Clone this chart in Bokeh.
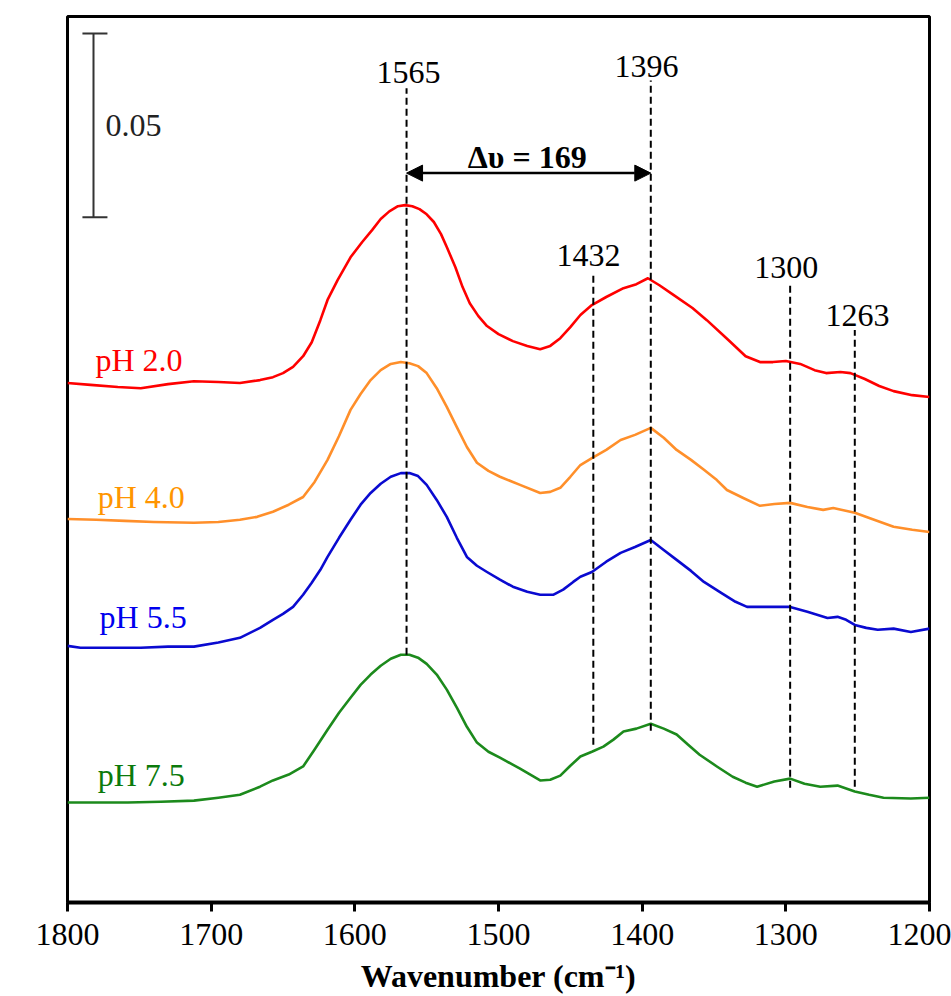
from bokeh.plotting import figure
from bokeh.models import Range1d, Label, Arrow, NormalHead, FixedTicker
from bokeh.embed import file_html
from bokeh.resources import INLINE

FONT = "Liberation Serif"

# ---- data (absorbance, stacked with arbitrary offsets as in the figure) ----
wn_red = [1800, 1784, 1765, 1749, 1730, 1712, 1695, 1680, 1666, 1657, 1650, 1643, 1636, 1630,
          1624, 1619, 1612, 1603, 1595, 1588, 1582, 1576, 1570, 1565, 1560, 1555, 1550, 1545,
          1540, 1536, 1530, 1525, 1520, 1514, 1508, 1500, 1490, 1480, 1471, 1464, 1457, 1450,
          1443, 1435, 1425, 1413, 1404, 1396, 1388, 1378, 1365, 1355, 1340, 1328, 1318, 1309,
          1300, 1290, 1280, 1272, 1262, 1255, 1245, 1235, 1225, 1212, 1200]
ab_red = [0.1413, 0.1408, 0.1402, 0.1399, 0.1410, 0.1418, 0.1416, 0.1413, 0.1421, 0.1429, 0.1440,
          0.1457, 0.1486, 0.1524, 0.1584, 0.1639, 0.1693, 0.1755, 0.1796, 0.1829, 0.1859, 0.1880,
          0.1894, 0.1897, 0.1894, 0.1886, 0.1872, 0.1851, 0.1818, 0.1783, 0.1728, 0.1674, 0.1630,
          0.1595, 0.1568, 0.1546, 0.1527, 0.1514, 0.1505, 0.1514, 0.1535, 0.1565, 0.1598, 0.1625,
          0.1647, 0.1671, 0.1682, 0.1698, 0.1679, 0.1652, 0.1617, 0.1584, 0.1530, 0.1486, 0.1470,
          0.1470, 0.1473, 0.1465, 0.1448, 0.1440, 0.1443, 0.1440, 0.1424, 0.1405, 0.1391, 0.1380,
          0.1375]

wn_orange = [1800, 1780, 1760, 1740, 1712, 1695, 1680, 1668, 1657, 1646, 1636, 1628, 1619, 1611,
             1603, 1596, 1589, 1582, 1575, 1568, 1562, 1556, 1550, 1543, 1536, 1529, 1522, 1515,
             1507, 1499, 1485, 1471, 1464, 1457, 1450, 1443, 1435, 1425, 1415, 1405, 1394, 1385,
             1376, 1366, 1357, 1348, 1341, 1330, 1318, 1308, 1297, 1285, 1274, 1267, 1252, 1240,
             1225, 1212, 1200]
ab_orange = [0.1043, 0.1041, 0.1038, 0.1035, 0.1033, 0.1035, 0.1041, 0.1049, 0.1063, 0.1082, 0.1103,
             0.1144, 0.1204, 0.1269, 0.1340, 0.1383, 0.1421, 0.1448, 0.1465, 0.1470, 0.1467, 0.1459,
             0.1440, 0.1399, 0.1348, 0.1293, 0.1239, 0.1196, 0.1174, 0.1158, 0.1136, 0.1114, 0.1117,
             0.1128, 0.1158, 0.1190, 0.1209, 0.1231, 0.1258, 0.1272, 0.1291, 0.1264, 0.1231, 0.1204,
             0.1177, 0.1149, 0.1122, 0.1101, 0.1079, 0.1084, 0.1087, 0.1076, 0.1068, 0.1073, 0.1060,
             0.1043, 0.1022, 0.1014, 0.1008]

wn_blue = [1800, 1791, 1770, 1749, 1730, 1712, 1695, 1680, 1666, 1657, 1650, 1643, 1636, 1630,
           1624, 1619, 1611, 1603, 1596, 1589, 1582, 1575, 1568, 1562, 1556, 1550, 1543, 1536,
           1529, 1522, 1515, 1508, 1499, 1490, 1480, 1471, 1462, 1455, 1448, 1443, 1435, 1425,
           1415, 1405, 1394, 1385, 1376, 1366, 1357, 1345, 1335, 1327, 1312, 1297, 1285, 1271,
           1264, 1258, 1252, 1244, 1236, 1225, 1213, 1200]
ab_blue = [0.0698, 0.0693, 0.0693, 0.0693, 0.0696, 0.0696, 0.0707, 0.0720, 0.0747, 0.0769, 0.0785,
           0.0804, 0.0837, 0.0870, 0.0905, 0.0940, 0.0992, 0.1041, 0.1082, 0.1114, 0.1139, 0.1158,
           0.1168, 0.1168, 0.1160, 0.1136, 0.1095, 0.1049, 0.0992, 0.0940, 0.0916, 0.0899, 0.0878,
           0.0859, 0.0845, 0.0837, 0.0837, 0.0851, 0.0872, 0.0886, 0.0899, 0.0927, 0.0951, 0.0967,
           0.0986, 0.0959, 0.0932, 0.0902, 0.0872, 0.0842, 0.0818, 0.0804, 0.0804, 0.0804, 0.0791,
           0.0774, 0.0777, 0.0769, 0.0755, 0.0747, 0.0742, 0.0745, 0.0736, 0.0745]

wn_green = [1800, 1780, 1758, 1735, 1712, 1695, 1680, 1666, 1657, 1646, 1636, 1628, 1619, 1611,
            1603, 1596, 1589, 1582, 1575, 1568, 1562, 1556, 1550, 1543, 1536, 1529, 1522, 1515,
            1507, 1499, 1485, 1471, 1464, 1457, 1450, 1443, 1435, 1427, 1420, 1413, 1404, 1394,
            1385, 1376, 1368, 1360, 1348, 1337, 1328, 1320, 1308, 1297, 1287, 1276, 1264, 1252,
            1242, 1232, 1213, 1200]
ab_green = [0.0272, 0.0272, 0.0272, 0.0274, 0.0277, 0.0285, 0.0293, 0.0315, 0.0332, 0.0348, 0.0370,
            0.0416, 0.0470, 0.0516, 0.0557, 0.0592, 0.0620, 0.0644, 0.0663, 0.0674, 0.0674, 0.0666,
            0.0649, 0.0620, 0.0579, 0.0530, 0.0478, 0.0435, 0.0410, 0.0394, 0.0364, 0.0332, 0.0334,
            0.0345, 0.0372, 0.0397, 0.0410, 0.0424, 0.0443, 0.0465, 0.0473, 0.0486, 0.0473, 0.0457,
            0.0429, 0.0402, 0.0370, 0.0342, 0.0326, 0.0315, 0.0329, 0.0337, 0.0323, 0.0315, 0.0318,
            0.0302, 0.0293, 0.0285, 0.0283, 0.0285]

series_names = ["pH 2.0", "pH 4.0", "pH 5.5", "pH 7.5"]
line_colors = ["#ff0000", "#ff8f2a", "#0a0ad0", "#1c8a1c"]
text_colors = ["#ff0000", "#ff9500", "#0000ee", "#0b7a0b"]

# peak markers: label text, line position, line top/bottom, label position
peak_labels = ["1565", "1396", "1432", "1300", "1263"]
peak_line_x = [1564, 1394, 1434, 1297, 1252]
peak_line_top = [0.2215, 0.2236, 0.1707, 0.1688, 0.1557]
peak_line_bot = [0.0674, 0.0467, 0.0429, 0.0312, 0.0315]
peak_label_x = [1562.7, 1397, 1437.4, 1299.7, 1250.2]
peak_label_y = [0.2258, 0.2274, 0.1761, 0.1728, 0.1598]

delta_text = "Δυ = 169"
scale_value = 0.05
scale_bottom = 0.1864

# ---- figure ----
p = figure(width=951, height=996, output_backend="svg", toolbar_location=None,
           x_range=Range1d(1800, 1200), y_range=Range1d(0, 0.2410),
           min_border_left=67, min_border_right=22, min_border_top=16, min_border_bottom=93)
p.grid.visible = False
p.yaxis.visible = False
p.outline_line_color = "black"
p.outline_line_width = 3
p.background_fill_color = "white"
p.border_fill_color = "white"

ax = p.xaxis[0]
ax.ticker = FixedTicker(ticks=[1800, 1700, 1600, 1500, 1400, 1300, 1200])
ax.minor_tick_line_color = None
ax.major_tick_in = 0
ax.major_tick_out = 9
ax.major_tick_line_width = 3
ax.axis_line_width = 4
ax.major_label_text_font = FONT
ax.major_label_text_font_size = "32px"
ax.major_label_text_color = "black"
ax.major_label_standoff = 12
ax.axis_label = "Wavenumber (cm⁻¹)"
ax.axis_label_text_font = FONT
ax.axis_label_text_font_style = "bold"
ax.axis_label_text_font_size = "32px"
ax.axis_label_text_color = "black"
ax.axis_label_standoff = 10

for wn, ab, c in zip([wn_red, wn_orange, wn_blue, wn_green],
                     [ab_red, ab_orange, ab_blue, ab_green], line_colors):
    p.line(wn, ab, line_color=c, line_width=2.6, line_join="round")

# pH labels
ph_x = [1780.5, 1779, 1777.7, 1779]
ph_y = [0.1476, 0.1103, 0.0777, 0.0348]
for t, x, y, c in zip(series_names, ph_x, ph_y, text_colors):
    p.add_layout(Label(x=x, y=y, text=t, text_font=FONT, text_font_size="32px",
                       text_color=c, text_baseline="middle", text_align="left"))

# dashed peak lines and labels
p.segment(x0=peak_line_x, y0=peak_line_bot, x1=peak_line_x, y1=peak_line_top,
          line_color="black", line_width=2, line_dash="7 4")
for t, x, y in zip(peak_labels, peak_label_x, peak_label_y):
    p.add_layout(Label(x=x, y=y, text=t, text_font=FONT, text_font_size="32px",
                       text_color="black", text_baseline="middle", text_align="center"))

# delta arrow
arrow_y = 0.1984
p.add_layout(Arrow(start=NormalHead(size=16, fill_color="black", line_color="black"),
                   end=NormalHead(size=16, fill_color="black", line_color="black"),
                   x_start=peak_line_x[0], y_start=arrow_y,
                   x_end=peak_line_x[1], y_end=arrow_y, line_width=2.5, line_color="black"))
p.add_layout(Label(x=1480, y=0.2027, text=delta_text, text_font=FONT, text_font_size="32px",
                   text_font_style="bold", text_color="black", text_baseline="middle",
                   text_align="center"))

# scale bar
sb_x = 1781.9
p.segment(x0=[sb_x, 1789.6, 1789.6], y0=[scale_bottom, scale_bottom, scale_bottom + scale_value],
          x1=[sb_x, 1772.2, 1772.2], y1=[scale_bottom + scale_value, scale_bottom, scale_bottom + scale_value],
          line_color="#333333", line_width=2)
p.add_layout(Label(x=1773.6, y=scale_bottom + scale_value / 2, text="0.05", text_font=FONT,
                   text_font_size="32px", text_color="#222222", text_baseline="middle",
                   text_align="left"))

# stacked y-axis title
letters = list("Absorbance")
for i, ch in enumerate(letters):
    p.add_layout(Label(x=1829, y=0.1595 - 0.0100 * i, text=ch, text_font=FONT,
                       text_font_size="30px", text_font_style="bold", text_color="black",
                       text_baseline="alphabetic", text_align="center"))

open("out.html", "w").write(file_html(p, INLINE))
